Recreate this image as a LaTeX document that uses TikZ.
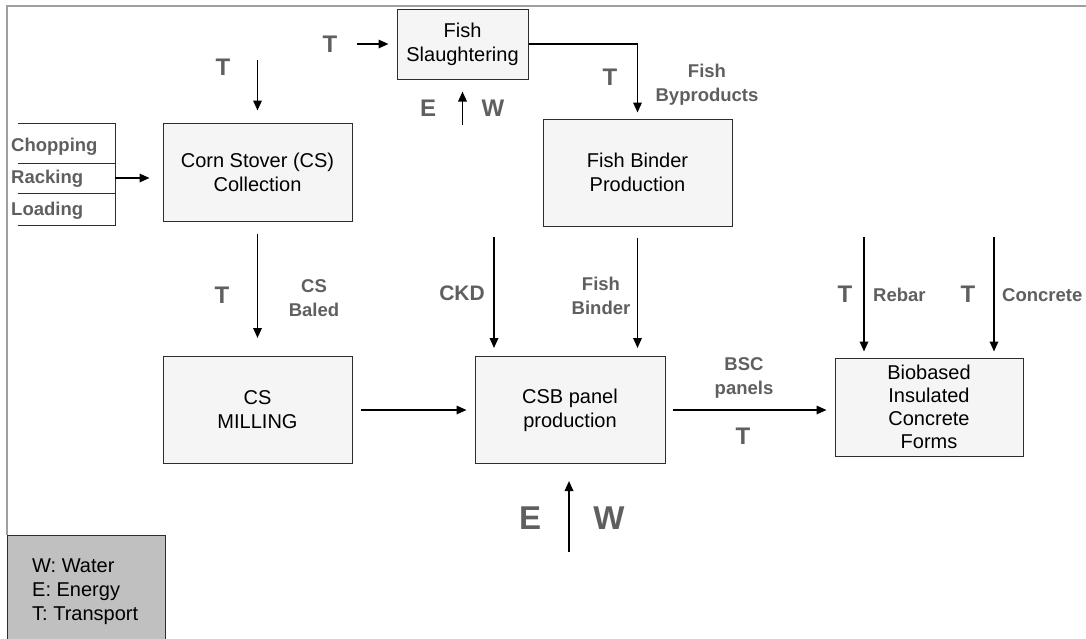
\documentclass[tikz,border=0pt]{standalone}
\usepackage{fontspec}
\setmainfont{Liberation Sans}
\usetikzlibrary{arrows.meta}
\definecolor{lblgray}{RGB}{95,95,95}
\definecolor{boxfill}{RGB}{245,245,245}
\definecolor{boxline}{RGB}{45,45,45}
\definecolor{framegray}{RGB}{160,160,160}
\definecolor{legendfill}{RGB}{192,192,192}

\begin{document}
\begin{tikzpicture}[x=1pt,y=-1pt]
 \tikzstyle{stage}=[draw=boxline, fill=boxfill, line width=1pt, align=center, inner sep=0pt, font=\fontsize{20}{24}\selectfont]
 \tikzstyle{tag}=[text=lblgray, align=center, inner sep=0pt, font=\bfseries\fontsize{18.5}{24}\selectfont]
 \tikzstyle{bigtag}=[text=lblgray, inner sep=0pt, font=\bfseries\fontsize{24}{28}\selectfont]
 \tikzstyle{hugetag}=[text=lblgray, inner sep=0pt, font=\bfseries\fontsize{33}{36}\selectfont]
 \tikzstyle{flow}=[line width=1.7pt, ->, >={Triangle[length=10pt,width=8.5pt]}]
 \useasboundingbox (0,0) rectangle (1086,638);
 % page frame and legend
 \draw[framegray, line width=1.5pt] (1086,6) -- (7,6) -- (7,535);
 \node[draw=boxline, fill=legendfill, line width=1pt, anchor=north west, minimum width=158, minimum height=115] at (7,535) (legend) {};
 \node[anchor=west, align=left, inner sep=0pt, font=\fontsize{20}{24}\selectfont] at (32,592) (legendtext)
 {W: Water\\E: Energy\\T: Transport};

 % process boxes
 \node[stage, minimum width=131, minimum height=70] at (462.5,44) (slaughter) {Fish\\Slaughtering};
 \node[stage, minimum width=189, minimum height=98] at (257.5,172) (collect) {Corn Stover (CS)\\Collection};
 \node[stage, minimum width=189, minimum height=107] at (637.5,172.5) (binder) {Fish Binder\\Production};
 \node[stage, minimum width=189, minimum height=107] at (257.5,410) (milling) {CS\\MILLING};
 \node[stage, minimum width=190, minimum height=107] at (570,410) (panel) {CSB panel\\production};
 \node[stage, minimum width=188, minimum height=98, font=\fontsize{20}{23}\selectfont] at (929,407) (icf) {Biobased\\Insulated\\Concrete\\Forms};

 % harvest steps
 \draw[boxline, line width=0.8pt] (18,123) -- (115,123) -- (115,225) -- (18,225);
 \draw[boxline, line width=0.8pt] (18,163) -- (115,163);
 \draw[boxline, line width=0.8pt] (18,193) -- (115,193);
 \node[tag, anchor=base west] at (11,151) (chop) {Chopping};
 \node[tag, anchor=base west] at (11,183) (rack) {Racking};
 \node[tag, anchor=base west] at (11,215) (load) {Loading};
 \coordinate (stepsout) at (115,178);
 \draw[flow, shorten >=13pt] (stepsout) -- (stepsout -| collect.west);

 % free ends
 \coordinate (slin) at (357,44);
 \coordinate (csin) at (257.5,60);
 \coordinate (ewup) at (462.5,125);
 \coordinate (ckdin) at (494,237);
 \coordinate (rebarin) at (864,237);
 \coordinate (concin) at (994,237);
 \coordinate (ewlow) at (569,552);

 % connectors
 \draw[flow, shorten >=8pt] (slin) -- (slaughter.west);
 \node[bigtag] at (330,44.5) (tsl) {T};
 \draw[flow, shorten >=12pt] (csin) -- (collect.north);
 \node[bigtag] at (223,67.5) (tcs) {T};
 \draw[flow, shorten >=6pt] (slaughter.east) -| (binder.north);
 \node[bigtag] at (610,77) (tby) {T};
 \node[tag] at (707,85) (byprod) {Fish\\Byproducts};
 \draw[flow, shorten >=12pt] (ewup) -- (slaughter.south);
 \node[bigtag] at (428,108) (esl) {E};
 \node[bigtag] at (493,108) (wsl) {W};

 \draw[flow, shorten <=12pt, shorten >=18pt] (collect.south) -- (milling.north);
 \node[bigtag] at (222,295) (tbale) {T};
 \node[tag] at (314,298) (baled) {CS\\Baled};
 \draw[flow, shorten <=8pt, shorten >=8pt] (milling.east) -- (panel.west);
 \draw[flow, shorten >=8pt] (ckdin) -- (ckdin |- panel.north);
 \node[tag, font=\bfseries\fontsize{21}{24}\selectfont] at (462,293) (ckd) {CKD};
 \draw[flow, shorten <=11pt, shorten >=8pt] (binder.south) -- (binder.south |- panel.north);
 \node[tag] at (601,296) (fbind) {Fish\\Binder};
 \draw[flow, shorten <=7pt, shorten >=8pt] (panel.east) -- (panel.east -| icf.west);
 \node[tag] at (744,378) (bsc) {BSC\\panels};
 \node[bigtag] at (743,436) (tbsc) {T};

 \draw[flow, shorten >=6pt] (rebarin) -- (rebarin |- icf.north);
 \node[bigtag] at (845,294) (treb) {T};
 \node[tag, anchor=west] at (873,295) (rebar) {Rebar};
 \draw[flow, shorten >=6pt] (concin) -- (concin |- icf.north);
 \node[bigtag] at (968,294) (tcon) {T};
 \node[tag, anchor=west] at (1002,295) (conc) {Concrete};

 \draw[flow, shorten >=17pt] (ewlow) -- (ewlow |- panel.south);
 \node[hugetag] at (530,518) (elow) {E};
 \node[hugetag] at (609,518) (wlow) {W};
\end{tikzpicture}
\end{document}
